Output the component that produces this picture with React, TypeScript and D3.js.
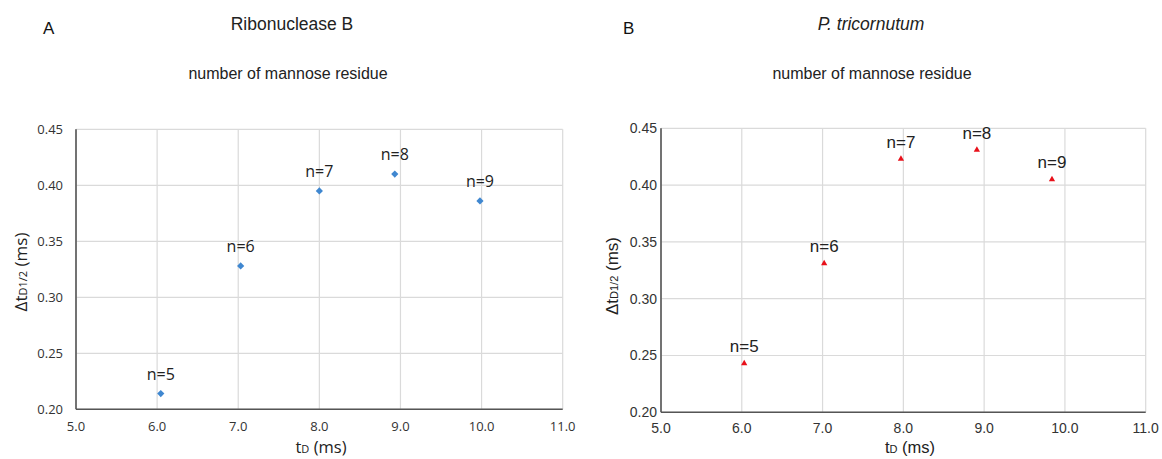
import React from "react";
import * as d3 from "d3";

const xTicks = [5.0, 6.0, 7.0, 8.0, 9.0, 10.0, 11.0];
const yTicks = [0.2, 0.25, 0.3, 0.35, 0.4, 0.45];
const pointLabels = ["n=5", "n=6", "n=7", "n=8", "n=9"];
const ribonucleaseX = [6.045, 7.03, 8.0, 8.93, 9.98];
const ribonucleaseY = [0.214, 0.328, 0.395, 0.41, 0.386];
const tricornutumX = [6.03, 7.02, 7.97, 8.91, 9.84];
const tricornutumY = [0.243, 0.331, 0.423, 0.431, 0.405];

type PanelProps = {
  letter: string;
  title: string;
  italic: boolean;
  xs: number[];
  ys: number[];
  left: number;
  right: number;
  top: number;
  bottom: number;
  letterX: number;
  titleX: number;
  subX: number;
  tickFont: string;
  tickSize: number;
  tickGap: number;
  xTickY: number;
  labelFont: string;
  labelSize: number;
  labelDy: number;
  yLabelX: number;
  yLabelY: number;
  xLabelX: number;
  marker: "diamond" | "triangle";
  color: string;
};

const Panel = (p: PanelProps) => {
  const x = d3.scaleLinear().domain([5, 11]).range([p.left, p.right]);
  const y = d3.scaleLinear().domain([0.2, 0.45]).range([p.bottom, p.top]);
  const sym =
    p.marker === "diamond"
      ? d3.symbol().type(d3.symbolSquare).size(26)()
      : d3.symbol().type(d3.symbolTriangle).size(17)();
  const titleFont = "Liberation Sans, Arial, sans-serif";
  return (
    <g>
      <text x={p.letterX} y={34} fontFamily={titleFont} fontSize={17} fill="#111">
        {p.letter}
      </text>
      <text
        x={p.titleX}
        y={30}
        textAnchor="middle"
        fontFamily={titleFont}
        fontSize={17.5}
        fontStyle={p.italic ? "italic" : "normal"}
        fill="#222"
      >
        {p.title}
      </text>
      <text x={p.subX} y={79} textAnchor="middle" fontFamily={titleFont} fontSize={16} fill="#222">
        number of mannose residue
      </text>
      {/* grid */}
      {xTicks.map((t) => (
        <line key={"gx" + t} x1={x(t)} x2={x(t)} y1={p.top} y2={p.bottom} stroke="#dadada" strokeWidth={1.2} />
      ))}
      {yTicks.map((t) => (
        <line key={"gy" + t} x1={p.left} x2={p.right} y1={y(t)} y2={y(t)} stroke="#dadada" strokeWidth={1.2} />
      ))}
      {/* axes */}
      <line x1={p.left} x2={p.left} y1={p.top} y2={p.bottom} stroke="#555" strokeWidth={1.6} />
      <line x1={p.left} x2={p.right} y1={p.bottom} y2={p.bottom} stroke="#555" strokeWidth={1.6} />
      {/* tick labels */}
      {yTicks.map((t) => (
        <text
          key={"ty" + t}
          x={p.left - p.tickGap}
          y={y(t)}
          dy="0.35em"
          textAnchor="end"
          fontFamily={p.tickFont}
          fontSize={p.tickSize}
          fill="#333"
        >
          {d3.format(".2f")(t)}
        </text>
      ))}
      {xTicks.map((t) => (
        <text
          key={"tx" + t}
          x={x(t)}
          y={p.xTickY}
          textAnchor="middle"
          fontFamily={p.tickFont}
          fontSize={p.tickSize}
          fill="#333"
        >
          {d3.format(".1f")(t)}
        </text>
      ))}
      {/* axis titles */}
      <text
        transform={`translate(${p.yLabelX},${p.yLabelY}) rotate(-90)`}
        textAnchor="middle"
        fontFamily={p.labelFont}
        fontSize={17}
        fill="#222"
      >
        Δt<tspan fontSize={11}>D1/2</tspan> (ms)
      </text>
      <text x={p.xLabelX} y={453} textAnchor="middle" fontFamily={p.labelFont} fontSize={16.5} fill="#222">
        t<tspan fontSize={11}>D</tspan> (ms)
      </text>
      {/* points */}
      {p.xs.map((v, i) => (
        <g key={"pt" + i}>
          <path
            d={sym || ""}
            transform={`translate(${x(v)},${y(p.ys[i])})${p.marker === "diamond" ? " rotate(45)" : ""}`}
            fill={p.color}
          />
          <text
            x={x(v)}
            y={y(p.ys[i]) - p.labelDy}
            textAnchor="middle"
            fontFamily={p.labelFont}
            fontSize={p.labelSize}
            fill="#222"
          >
            {pointLabels[i]}
          </text>
        </g>
      ))}
    </g>
  );
};

export default function App() {
  return (
    <svg
      width={1162}
      height={459}
      style={{ position: "absolute", left: 0, top: 0, background: "#fff" }}
    >
      <rect width={1162} height={459} fill="#fff" />
      <Panel
        letter="A"
        title="Ribonuclease B"
        italic={false}
        xs={ribonucleaseX}
        ys={ribonucleaseY}
        left={76}
        right={562.7}
        top={129.3}
        bottom={409.3}
        letterX={43}
        titleX={292}
        subX={288}
        tickFont="Open Sans, sans-serif"
        tickSize={13}
        tickGap={13}
        xTickY={431}
        labelFont="Open Sans, sans-serif"
        labelSize={16}
        labelDy={14}
        yLabelX={27}
        yLabelY={272}
        xLabelX={321}
        marker="diamond"
        color="#3f87d0"
      />
      <Panel
        letter="B"
        title="P. tricornutum"
        italic={true}
        xs={tricornutumX}
        ys={tricornutumY}
        left={661}
        right={1145.7}
        top={128.3}
        bottom={412.3}
        letterX={623}
        titleX={871}
        subX={872}
        tickFont="Liberation Sans, Arial, sans-serif"
        tickSize={14}
        tickGap={4}
        xTickY={433}
        labelFont="Liberation Sans, Arial, sans-serif"
        labelSize={17}
        labelDy={11}
        yLabelX={618}
        yLabelY={276}
        xLabelX={910}
        marker="triangle"
        color="#e8101a"
      />
    </svg>
  );
}
